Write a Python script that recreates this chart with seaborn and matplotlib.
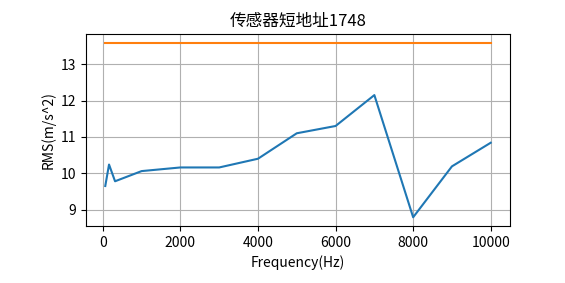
import matplotlib
matplotlib.use("Agg")
import matplotlib.pyplot as plt
import seaborn as sns
import pandas as pd

freqs = [63, 160, 315, 1000, 2000, 3000, 4000, 5000, 6000, 7000, 8000, 9000, 10000]
rms = [9.65, 10.24, 9.78, 10.06, 10.16, 10.16, 10.40, 11.10, 11.30, 12.15, 8.79, 10.19, 10.84]
limit_x = [63, 10000]
limit_y = [13.59, 13.59]

title = "传感器短地址1748"
xlabel = "Frequency(Hz)"
ylabel = "RMS(m/s^2)"

plt.rcParams['font.family'] = ['Noto Sans CJK SC', 'DejaVu Sans']
plt.rcParams['axes.unicode_minus'] = False

fig = plt.figure(figsize=(5.65, 2.83), dpi=100)
ax = fig.add_axes([86/565, 1-226/283, (510-86)/565, (226-34)/283])

df = pd.DataFrame({"f": freqs, "r": rms})
dl = pd.DataFrame({"f": limit_x, "r": limit_y})
sns.lineplot(data=df, x="f", y="r", ax=ax, color="#1f77b4", linewidth=1.5)
sns.lineplot(data=dl, x="f", y="r", ax=ax, color="#ff7f0e", linewidth=1.5)

ax.grid(True, color="#b0b0b0", linewidth=0.8)
ax.set_axisbelow(True)
ax.set_title(title, fontsize=12)
ax.set_xlabel(xlabel, fontsize=10)
ax.set_ylabel(ylabel, fontsize=10)
ax.set_xticks([0, 2000, 4000, 6000, 8000, 10000])
ax.set_yticks([9, 10, 11, 12, 13])
ax.tick_params(labelsize=10)
for s in ax.spines.values():
    s.set_color("black")
    s.set_linewidth(0.8)

fig.savefig("out.png", dpi=100)
